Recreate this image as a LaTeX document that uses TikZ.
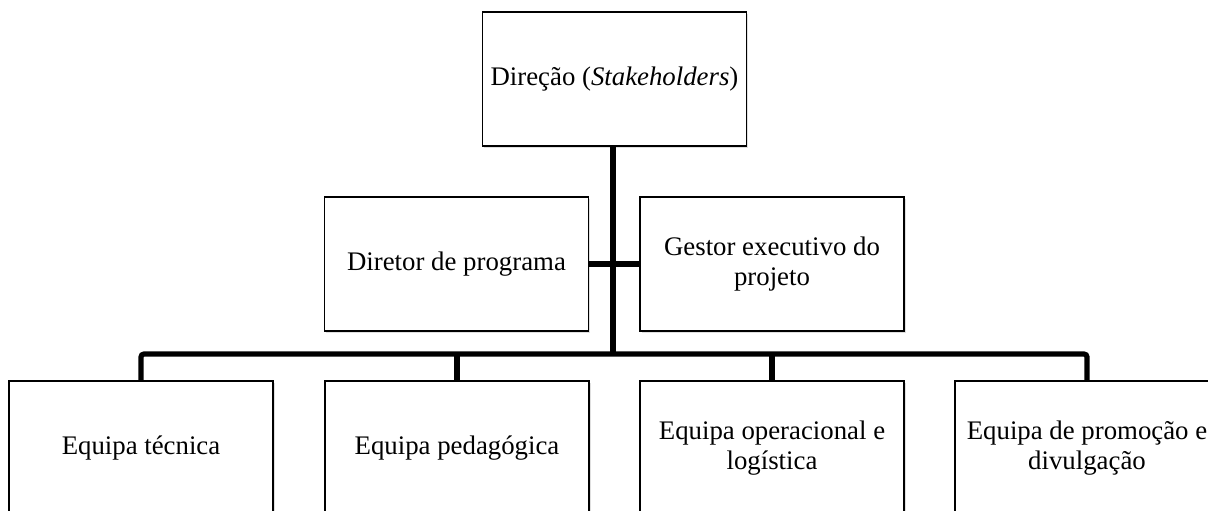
\documentclass[tikz,border=0pt]{standalone}
\usepackage{fontspec}
\setmainfont{Liberation Serif}
\usetikzlibrary{shadows}

\tikzset{
  orgbox/.style={align=center,rectangle,minimum width=132pt,minimum height=67pt,
    text centered,draw=black,line width=0.9pt,fill=white,
    drop shadow={shadow xshift=0.8pt,shadow yshift=-0.8pt,opacity=0.25},
    font=\fontsize{13.4pt}{14.6pt}\selectfont},
  orglink/.style={line width=2.6pt,rounded corners=1.5pt}
}

\begin{document}
\begin{tikzpicture}[x=0.5pt,y=-0.5pt]
  \useasboundingbox (0,0) rectangle (1208,510);

  % direcao
  \node (direcao)[orgbox] at (614.5,79) {Direção (\textit{Stakeholders})};

  % segundo nivel
  \node (diretor)[orgbox] at (456.5,264) {Diretor de programa};
  \node (gestor)[orgbox] at (772,264) {Gestor executivo do\\projeto};

  % equipas
  \node (tecnica)[orgbox] at (141,448) {Equipa técnica};
  \node (pedagogica)[orgbox] at (457,448) {Equipa pedagógica};
  \node (operacional)[orgbox] at (772,448) {Equipa operacional e\\logística};
  \node (promocao)[orgbox] at (1087,448) {Equipa de promoção e\\divulgação};

  % ligacoes
  \coordinate (bus) at (613,354);
  \draw[orglink] (direcao.south -| bus) -- (bus);
  \draw[orglink] (diretor.east) -- (gestor.west);
  \draw[orglink] (tecnica.north) |- (bus) -| (promocao.north);
  \draw[orglink] (pedagogica.north) -- (pedagogica.north |- bus);
  \draw[orglink] (operacional.north) -- (operacional.north |- bus);
\end{tikzpicture}
\end{document}
